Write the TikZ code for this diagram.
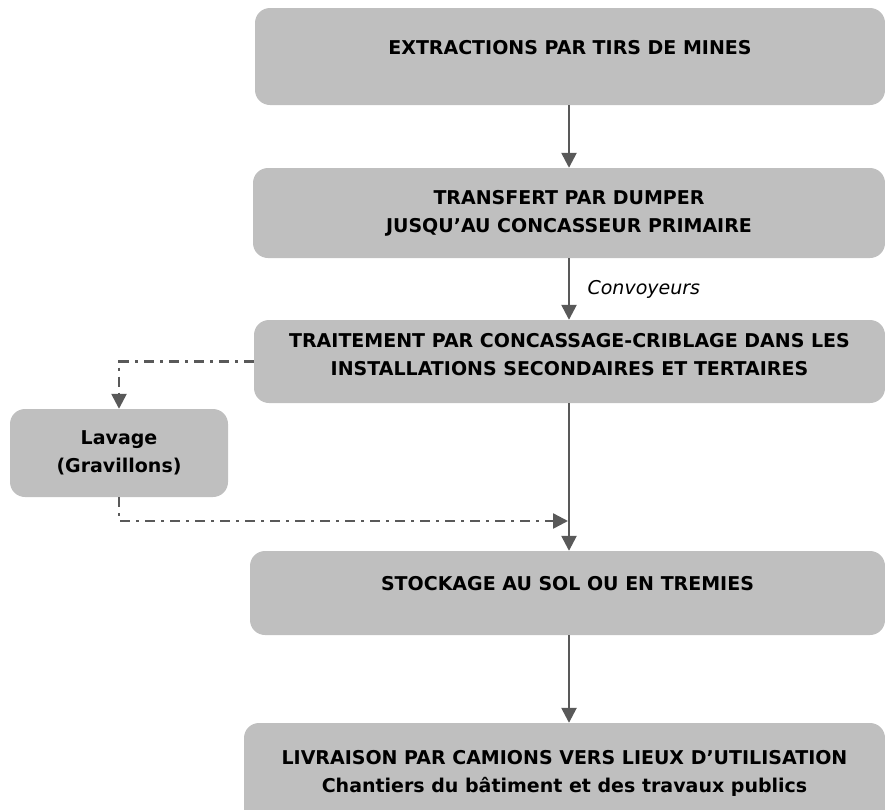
\documentclass[tikz,border=0pt]{standalone}
\usepackage{fontspec}
\setmainfont{DejaVu Sans}
\usetikzlibrary{arrows.meta}

\definecolor{boxgray}{HTML}{BFBFBF}
\definecolor{linegray}{HTML}{595959}

\begin{document}
\begin{tikzpicture}[x=1pt, y=-1pt,
	stage/.style={rectangle, fill=boxgray, rounded corners=15pt, align=center, inner sep=0pt,
		font=\fontsize{19}{28}\selectfont\bfseries},
	lift/.style={text depth=#1},
	flow/.style={draw=linegray, line width=2.5pt, -{Triangle[length=15pt, width=15pt]}},
	sideflow/.style={flow, dash pattern=on 10pt off 6pt on 3pt off 6pt}]
	
	\useasboundingbox (0,0) rectangle (885,809);
	\clip (0,0) rectangle (885,809);
	
	\coordinate (axis) at (569,0);
	\coordinate (merge) at (568,521);
	
	\node [stage, lift=18pt, minimum width=630pt, minimum height=97pt] (extraction) at (570,56.5)
		{EXTRACTIONS PAR TIRS DE MINES};
	\node [stage, minimum width=632pt, minimum height=90pt] (transfert) at (569,213)
		{TRANSFERT PAR DUMPER\\JUSQU'AU CONCASSEUR PRIMAIRE};
	\node [stage, lift=14pt, minimum width=631pt, minimum height=83pt] (traitement) at (569.5,361.5)
		{TRAITEMENT PAR CONCASSAGE-CRIBLAGE DANS LES\\INSTALLATIONS SECONDAIRES ET TERTAIRES};
	\node [stage, minimum width=218pt, minimum height=88pt] (lavage) at (119,453)
		{Lavage\\(Gravillons)};
	\node [stage, lift=20pt, minimum width=635pt, minimum height=84pt] (stockage) at (567.5,593)
		{STOCKAGE AU SOL OU EN TREMIES};
	\node [stage, minimum width=641pt, minimum height=100pt] (livraison) at (564.5,773)
		{LIVRAISON PAR CAMIONS VERS LIEUX D’UTILISATION\\Chantiers du bâtiment et des travaux publics};
	
	\draw [flow] (extraction.south -| axis) -- (transfert.north -| axis);
	\draw [flow] (transfert.south -| axis) -- node [right=14pt, font=\fontsize{19}{24}\selectfont\itshape] (convoyeurs) {Convoyeurs} (traitement.north -| axis);
	\draw [flow] (traitement.south -| axis) -- (stockage.north -| axis);
	\draw [flow] (stockage.south -| axis) -- (livraison.north -| axis);
	\draw [sideflow] (traitement.west) -| (lavage.north);
	\draw [sideflow] (lavage.south) |- (merge);
	
\end{tikzpicture}
\end{document}
